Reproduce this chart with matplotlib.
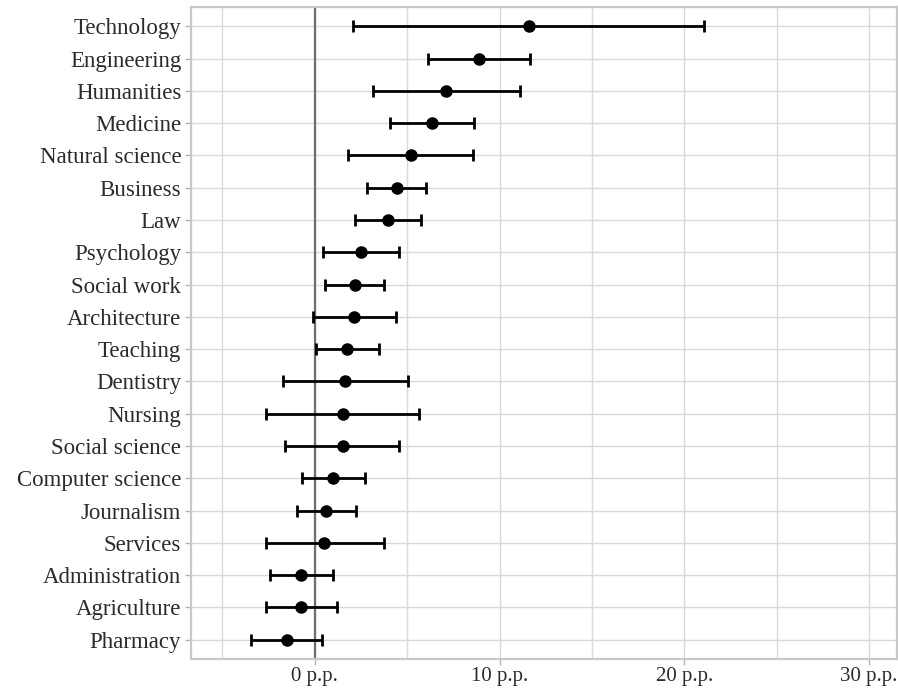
import numpy as np
import matplotlib
matplotlib.use("Agg")
import matplotlib.pyplot as plt
from matplotlib.ticker import FixedLocator

# Estimated effect (percentage points) with lower / upper interval bounds
fields = [
    "Technology", "Engineering", "Humanities", "Medicine", "Natural science",
    "Business", "Law", "Psychology", "Social work", "Architecture",
    "Teaching", "Dentistry", "Nursing", "Social science", "Computer science",
    "Journalism", "Services", "Administration", "Agriculture", "Pharmacy",
]
estimate = [11.57, 8.87, 7.11, 6.35, 5.20, 4.44, 3.97, 2.52, 2.16, 2.13,
            1.74, 1.64, 1.50, 1.50, 1.00, 0.61, 0.51, -0.74, -0.74, -1.52]
lower = [2.06, 6.13, 3.14, 4.07, 1.81, 2.84, 2.18, 0.47, 0.54, -0.12,
         0.05, -1.72, -2.65, -1.62, -0.69, -0.98, -2.65, -2.45, -2.65, -3.43]
upper = [21.08, 11.64, 11.10, 8.60, 8.55, 6.03, 5.74, 4.56, 3.77, 4.39,
         3.48, 5.05, 5.64, 4.53, 2.70, 2.25, 3.73, 1.00, 1.18, 0.39]

x_major = [0, 10, 20, 30]
x_minor = [-5, 5, 15, 25]
x_labels = ["0 p.p.", "10 p.p.", "20 p.p.", "30 p.p."]

plt.rcParams["font.family"] = ["Liberation Serif", "DejaVu Serif"]

est = np.array(estimate)
lo = np.array(lower)
hi = np.array(upper)
n = len(fields)
ypos = np.arange(n)[::-1]  # first field at the top

fig = plt.figure(figsize=(8.98, 6.93), dpi=100)
ax = fig.add_axes([0.2127, 0.049, 0.786, 0.941])

grid_col = "#d9d9d9"
ax.set_axisbelow(True)
ax.xaxis.set_major_locator(FixedLocator(x_major))
ax.xaxis.set_minor_locator(FixedLocator(x_minor))
ax.grid(True, which="major", color=grid_col, linewidth=1.0)
ax.grid(True, which="minor", axis="x", color=grid_col, linewidth=1.0)

ax.axvline(0, color="#6e6e6e", linewidth=1.6, zorder=1.5)

ax.errorbar(est, ypos, xerr=[est - lo, hi - est], fmt="o", color="black",
            markersize=8, elinewidth=2.0, capsize=4, capthick=2.0,
            zorder=3)

ax.set_xlim(-6.7, 31.5)
ax.set_ylim(-0.6, n - 0.4)
ax.set_yticks(ypos)
ax.set_yticklabels(fields)
ax.set_xticklabels(x_labels)

ax.tick_params(axis="both", which="major", color="#b3b3b3",
               length=4, width=1.0, labelcolor="#2b2b2b")
ax.tick_params(axis="y", labelsize=16.5, pad=3)
ax.tick_params(axis="x", labelsize=15, pad=2)
ax.tick_params(axis="x", which="minor", length=0)

for s in ax.spines.values():
    s.set_color("#c8c8c8")
    s.set_linewidth(1.6)

fig.savefig("out.png", dpi=100)
plt.close(fig)
